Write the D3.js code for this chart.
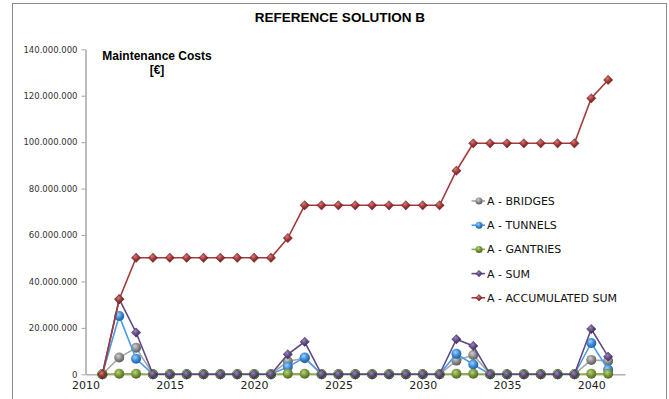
<!DOCTYPE html>
<html>
<head>
<meta charset="utf-8">
<script src="https://cdn.jsdelivr.net/npm/d3@7"></script>
<style>
  body { margin: 0; background: #fff; }
  svg { display: block; }
</style>
</head>
<body>
<div id="chart"></div>
<script>
// years on the x axis
var years = d3.range(2011, 2042);

// values in euro, one per year 2011..2041
var bridges = [0, 7.2e6, 11.4e6, 0, 0, 0, 0, 0, 0, 0, 0, 5.6e6, 6.9e6, 0, 0, 0, 0, 0, 0, 0, 0, 5.9e6, 8.3e6, 0, 0, 0, 0, 0, 0, 6.2e6, 5.7e6];
var tunnels = [0, 25.1e6, 6.7e6, 0, 0, 0, 0, 0, 0, 0, 0, 3.2e6, 7.2e6, 0, 0, 0, 0, 0, 0, 0, 0, 8.8e6, 4.2e6, 0, 0, 0, 0, 0, 0, 13.5e6, 2.0e6];
var gantries = [0, 0.2e6, 0.2e6, 0, 0, 0, 0, 0, 0, 0, 0, 0.2e6, 0.2e6, 0, 0, 0, 0, 0, 0, 0, 0, 0.2e6, 0.2e6, 0, 0, 0, 0, 0, 0, 0.2e6, 0.2e6];
var sums = [0, 32.4e6, 18.0e6, 0, 0, 0, 0, 0, 0, 0, 0, 8.6e6, 14.0e6, 0, 0, 0, 0, 0, 0, 0, 0, 15.1e6, 12.2e6, 0, 0, 0, 0, 0, 0, 19.5e6, 7.6e6];
var accumulated = [0, 32.3e6, 50.2e6, 50.2e6, 50.2e6, 50.2e6, 50.2e6, 50.2e6, 50.2e6, 50.2e6, 50.2e6, 58.7e6, 72.8e6, 72.8e6, 72.8e6, 72.8e6, 72.8e6, 72.8e6, 72.8e6, 72.8e6, 72.8e6, 87.7e6, 99.5e6, 99.5e6, 99.5e6, 99.5e6, 99.5e6, 99.5e6, 99.5e6, 118.9e6, 126.8e6];

var seriesNames = ["A - BRIDGES", "A - TUNNELS", "A - GANTRIES", "A - SUM", "A - ACCUMULATED SUM"];
var xTicks = [2010, 2015, 2020, 2025, 2030, 2035, 2040];
var yTicks = [0, 20e6, 40e6, 60e6, 80e6, 100e6, 120e6, 140e6];

var series = [
  {name: seriesNames[0], values: bridges, shape: "circle", line: "#a6a6a6", dark: "#5a5a5a", light: "#d0d0d0", base: "#8a8a8a"},
  {name: seriesNames[1], values: tunnels, shape: "circle", line: "#4d9be6", dark: "#1f5f9e", light: "#9fd0ff", base: "#3d8ad6"},
  {name: seriesNames[2], values: gantries, shape: "circle", line: "#8aab4b", dark: "#4d6620", light: "#b8d47c", base: "#76963a"},
  {name: seriesNames[3], values: sums, shape: "diamond", line: "#5f4a80", dark: "#3a2a55", light: "#9a84bb", base: "#5e4880"},
  {name: seriesNames[4], values: accumulated, shape: "diamond", line: "#a23b3b", dark: "#6b1f1f", light: "#d27a7a", base: "#9c3434"}
];

var W = 669, H = 399;
var svg = d3.select("#chart").append("svg")
    .attr("width", W)
    .attr("height", H);

var defs = svg.append("defs");
series.forEach(function(s, i) {
  var g = defs.append("radialGradient")
      .attr("id", "grad" + i)
      .attr("cx", "40%").attr("cy", "35%").attr("r", "65%");
  g.append("stop").attr("offset", "0%").attr("stop-color", s.light);
  g.append("stop").attr("offset", "55%").attr("stop-color", s.base);
  g.append("stop").attr("offset", "100%").attr("stop-color", s.dark);
});

// outer border
svg.append("rect")
    .attr("x", 12.5).attr("y", 3.5)
    .attr("width", 654).attr("height", 400)
    .attr("fill", "none")
    .attr("stroke", "#8c8c8c")
    .attr("stroke-width", 1);

svg.append("text")
    .attr("x", 340)
    .attr("y", 22)
    .attr("text-anchor", "middle")
    .attr("font-family", "'Liberation Sans', Arial, sans-serif")
    .attr("font-weight", 700)
    .style("font-size", "13.5px")
    .text("REFERENCE SOLUTION B");

var x = d3.scaleLinear()
    .domain([2010, 2042])
    .range([85.5, 625]);

var y = d3.scaleLinear()
    .domain([0, 140e6])
    .range([374.3, 49.3]);

var loc = d3.formatLocale({decimal: ",", thousands: ".", grouping: [3], currency: ["", "€"]});
var fmt = loc.format(",.0f");

var yAxis = svg.append("g")
    .attr("transform", "translate(" + x(2010) + ",0)")
    .call(d3.axisLeft(y).tickValues(yTicks).tickFormat(fmt).tickSize(4).tickSizeOuter(0).tickPadding(4));
yAxis.select(".domain").attr("stroke", "#a6a6a6").attr("stroke-width", 1.5);
yAxis.selectAll(".tick line").attr("stroke", "#a6a6a6");
yAxis.selectAll(".tick text")
    .attr("font-family", "'DejaVu Sans', Verdana, sans-serif")
    .style("font-size", "8.5px")
    .attr("fill", "#333");

var xAxis = svg.append("g")
    .attr("transform", "translate(0," + y(0) + ")")
    .call(d3.axisBottom(x).tickValues(xTicks).tickFormat(d3.format("d")).tickSize(0).tickPadding(7));
xAxis.select(".domain").attr("stroke", "#b0b0b0").attr("stroke-width", 1.5);
xAxis.selectAll(".tick text")
    .attr("font-family", "'DejaVu Sans', Verdana, sans-serif")
    .style("font-size", "11px")
    .attr("fill", "#222");

svg.append("text")
    .attr("x", 157)
    .attr("y", 60)
    .attr("text-anchor", "middle")
    .attr("font-family", "'Liberation Sans', Arial, sans-serif")
    .attr("font-weight", 700)
    .style("font-size", "12px")
    .text("Maintenance Costs");
svg.append("text")
    .attr("x", 157)
    .attr("y", 74)
    .attr("text-anchor", "middle")
    .attr("font-family", "'Liberation Sans', Arial, sans-serif")
    .attr("font-weight", 700)
    .style("font-size", "12px")
    .text("[€]");

var diamond = d3.symbol().type(d3.symbolDiamond2);

function drawMarker(sel, s, i, size) {
  if (s.shape === "circle") {
    sel.append("circle")
        .attr("r", size / 2)
        .attr("fill", "url(#grad" + i + ")");
  } else {
    sel.append("path")
        .attr("d", diamond.size(size * size * 0.55)())
        .attr("fill", "url(#grad" + i + ")")
        .attr("stroke", s.dark)
        .attr("stroke-width", 0.5);
  }
}

var line = d3.line()
    .x(function(d) { return x(d.year); })
    .y(function(d) { return y(d.value); });

series.forEach(function(s, i) {
  var pts = years.map(function(yr, j) { return {year: yr, value: s.values[j]}; });
  var g = svg.append("g");
  g.append("path")
      .datum(pts)
      .attr("d", line)
      .attr("fill", "none")
      .attr("stroke", s.line)
      .attr("stroke-width", 1.6);
  g.selectAll("g.m")
      .data(pts)
    .enter().append("g")
      .attr("class", "m")
      .attr("transform", function(d) { return "translate(" + x(d.year) + "," + y(d.value) + ")"; })
      .each(function() { drawMarker(d3.select(this), s, i, 10); });
});

// legend
var legend = svg.append("g");
series.forEach(function(s, i) {
  var ly = 201 + i * 24.2;
  var row = legend.append("g").attr("transform", "translate(0," + ly + ")");
  row.append("line")
      .attr("x1", 471.5).attr("x2", 485)
      .attr("y1", 0).attr("y2", 0)
      .attr("stroke", s.line)
      .attr("stroke-width", 1.6);
  var m = row.append("g").attr("transform", "translate(479,0)");
  drawMarker(m, s, i, 7);
  row.append("text")
      .attr("x", 487)
      .attr("y", 0)
      .attr("dy", "0.36em")
      .attr("font-family", "'DejaVu Sans', Verdana, sans-serif")
      .style("font-size", "11px")
      .attr("fill", "#111")
      .text(s.name);
});
</script>
</body>
</html>
